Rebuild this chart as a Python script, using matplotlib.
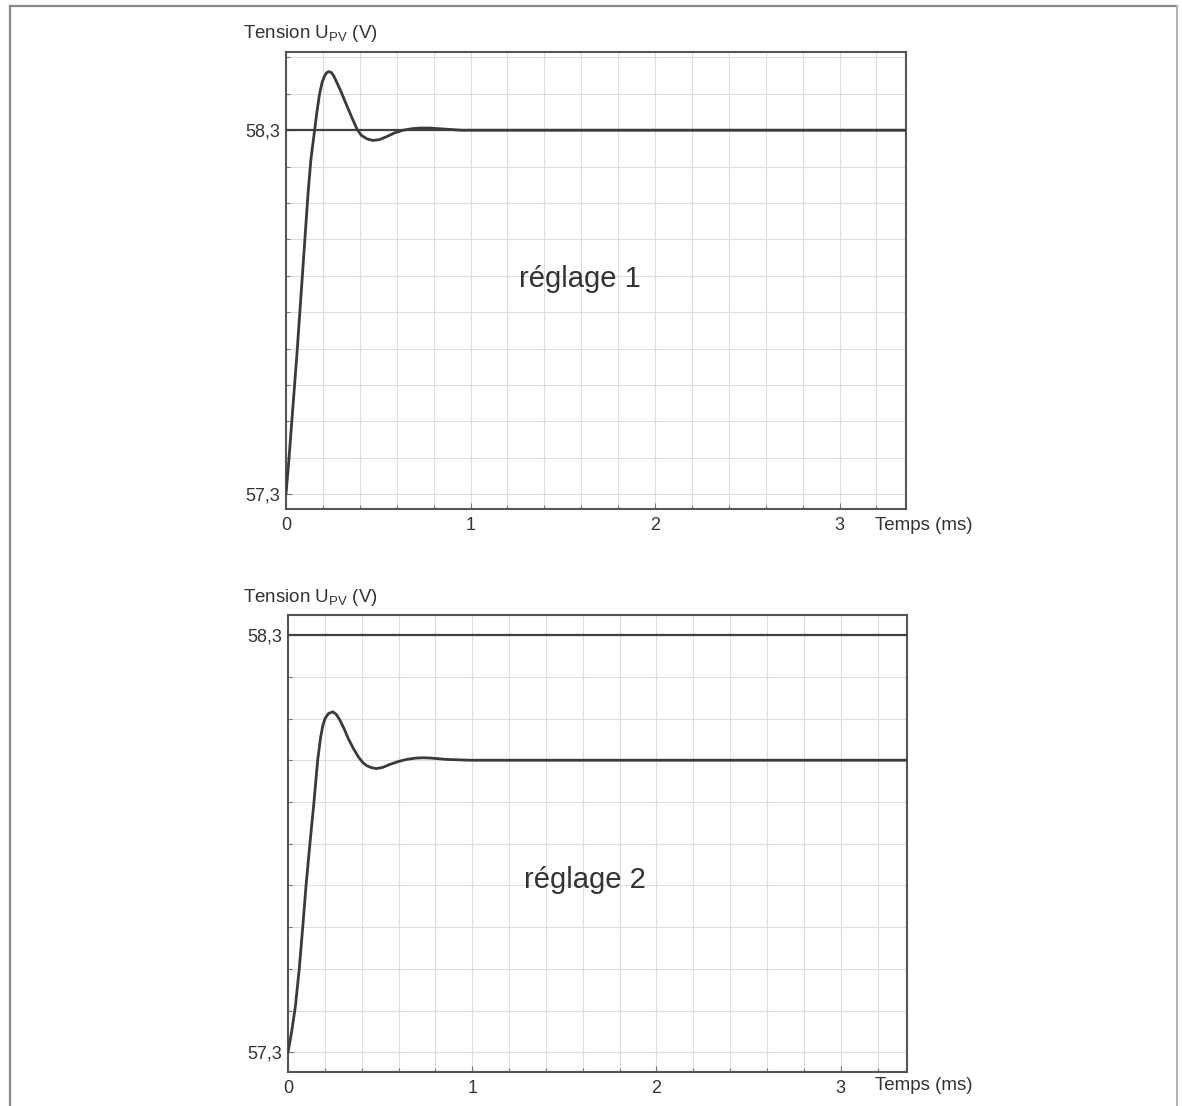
import matplotlib
matplotlib.use("Agg")
import matplotlib.pyplot as plt
from matplotlib.ticker import MultipleLocator, FixedLocator
from matplotlib.lines import Line2D

plt.rcParams['font.family'] = ['Liberation Sans', 'DejaVu Sans']
plt.rcParams['mathtext.fontset'] = 'custom'
plt.rcParams['mathtext.rm'] = 'Liberation Sans'
plt.rcParams['mathtext.it'] = 'Liberation Sans'

# ---- data ----
t1 = [0.0, 0.015, 0.030, 0.045, 0.060, 0.075, 0.090, 0.105, 0.120, 0.135, 0.155,
      0.168, 0.182, 0.195, 0.209, 0.220, 0.232, 0.245, 0.258, 0.272, 0.295, 0.317,
      0.340, 0.363, 0.385, 0.408, 0.440, 0.471, 0.505, 0.544, 0.590, 0.634,
      0.680, 0.724, 0.780, 0.833, 0.95, 3.36]
u1 = [57.30, 57.39, 57.49, 57.59, 57.69, 57.80, 57.91, 58.02, 58.13, 58.22, 58.30,
      58.352, 58.40, 58.430, 58.449, 58.458, 58.461, 58.459, 58.450, 58.435, 58.410, 58.383,
      58.355, 58.328, 58.303, 58.286, 58.276, 58.272, 58.274, 58.282, 58.293, 58.300,
      58.304, 58.306, 58.306, 58.304, 58.300, 58.300]

t2 = [0.0, 0.020, 0.040, 0.061, 0.080, 0.098, 0.119, 0.141, 0.161, 0.177, 0.189, 0.201,
      0.220, 0.243, 0.262, 0.282, 0.305, 0.327, 0.355, 0.382, 0.405, 0.427, 0.455,
      0.481, 0.515, 0.553, 0.600, 0.644, 0.690, 0.734, 0.780, 0.861, 0.988, 3.36]
u2 = [57.30, 57.35, 57.41, 57.50, 57.60, 57.70, 57.80, 57.90, 58.00, 58.055, 58.083, 58.10,
      58.112, 58.116, 58.110, 58.096, 58.075, 58.052, 58.028, 58.008, 57.995, 57.987, 57.982,
      57.980, 57.983, 57.990, 57.997, 58.002, 58.005, 58.006, 58.005, 58.002, 58.00, 58.00]

u_ref = 58.3
x_ticks = [0, 1, 2, 3]
x_ticklabels = ["0", "1", "2", "3"]
y_ticks = [57.3, 58.3]
y_ticklabels = ["57,3", "58,3"]
labels = ["réglage 1", "réglage 2"]

W, H = 1182, 1106
fig = plt.figure(figsize=(W / 100, H / 100), dpi=100)
fig.patch.set_facecolor('white')

text_c = '#333333'
line_c = '#3a3a3a'

def px(x0, y0, x1, y1):
    return [x0 / W, 1 - y1 / H, (x1 - x0) / W, (y1 - y0) / H]

panels = [
    dict(rect=px(286, 52, 906, 509), ylim=(57.259, 58.515), t=t1, u=u1,
         lab=labels[0], lab_xy=(1.59, 57.892), ylab_y=33, xlab_y=525),
    dict(rect=px(288, 615, 907, 1072), ylim=(57.253, 58.348), t=t2, u=u2,
         lab=labels[1], lab_xy=(1.61, 57.712), ylab_y=597, xlab_y=1085),
]

for p in panels:
    ax = fig.add_axes(p['rect'])
    ax.set_xlim(0, 3.36)
    ax.set_ylim(*p['ylim'])
    ax.xaxis.set_major_locator(FixedLocator(x_ticks))
    ax.set_xticklabels(x_ticklabels)
    ax.yaxis.set_major_locator(FixedLocator(y_ticks))
    ax.set_yticklabels(y_ticklabels)
    ax.xaxis.set_minor_locator(MultipleLocator(0.2))
    ax.yaxis.set_minor_locator(MultipleLocator(0.1))
    ax.grid(True, which='both', color='#dddddd', lw=0.8)
    ax.set_axisbelow(True)
    ax.tick_params(which='both', direction='in', color='#777777', width=0.8,
                   labelsize=13, labelcolor=text_c)
    ax.tick_params(which='major', length=4)
    ax.tick_params(which='minor', length=3)
    ax.tick_params(axis='x', pad=6)
    ax.tick_params(axis='y', pad=4)
    for s in ax.spines.values():
        s.set_color('#555555')
        s.set_linewidth(1.5)
    ax.axhline(u_ref, color='#404040', lw=1.6, zorder=3)
    ax.plot(p['t'], p['u'], color=line_c, lw=2.0, zorder=4,
            solid_joinstyle='round', solid_capstyle='round')
    ax.text(p['lab_xy'][0], p['lab_xy'][1], p['lab'], fontsize=21, color=text_c,
            ha='center', va='center')
    fig.text(243 / W, 1 - p['ylab_y'] / H, "Tension U$_{\\mathrm{PV}}$ (V)",
             fontsize=13.5, color=text_c, ha='left', va='center')
    fig.text(875 / W, 1 - p['xlab_y'] / H, "Temps (ms)",
             fontsize=13.5, color=text_c, ha='left', va='center')

# outer frame of the scanned page
frame_c = '#8a8a8a'
fig.add_artist(Line2D([10 / W, 10 / W], [0, 1 - 6 / H], transform=fig.transFigure,
                      color=frame_c, lw=1.6))
fig.add_artist(Line2D([10 / W, 1177 / W], [1 - 6 / H, 1 - 6 / H], transform=fig.transFigure,
                      color=frame_c, lw=1.6))
fig.add_artist(Line2D([1177 / W, 1177 / W], [0, 1 - 6 / H], transform=fig.transFigure,
                      color='#b0b0b0', lw=1.4))

fig.savefig("out.png", dpi=100, facecolor='white')
